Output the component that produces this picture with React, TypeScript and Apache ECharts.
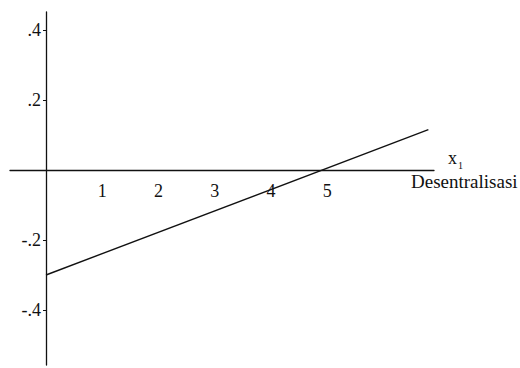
import React, { useEffect, useRef } from "react";
import * as echarts from "echarts";

const xTickValues = [1, 2, 3, 4, 5];
const yTickValues = [0.4, 0.2, -0.2, -0.4];
const lineX = [0, 6.8];
const lineY = [-0.3, 0.115];
const axisName = "Desentralisasi";
const varName = "x";
const varSub = "1";

const FONT = "'Liberation Serif', 'DejaVu Serif', serif";

export default function App() {
  const ref = useRef<HTMLDivElement>(null);
  useEffect(() => {
    if (!ref.current) return;
    const chart = echarts.init(ref.current, undefined, { renderer: "svg" });
    chart.setOption({
      animation: false,
      backgroundColor: "#ffffff",
      grid: {
        left: 10,
        top: 12,
        width: 424,
        height: 353,
        containLabel: false,
        outerBoundsMode: "none",
      },
      xAxis: {
        type: "value",
        min: -0.64,
        max: 6.9,
        position: "bottom",
        offset: -195,
        splitLine: { show: false },
        axisLine: { show: true, onZero: false, lineStyle: { color: "#111", width: 1.3 } },
        axisTick: { show: false },
        axisLabel: {
          customValues: xTickValues,
          color: "#111",
          fontFamily: FONT,
          fontSize: 18,
          margin: 12,
          formatter: (v: number) => String(v),
        },
      },
      yAxis: {
        type: "value",
        min: -0.557,
        max: 0.451,
        position: "left",
        offset: -36,
        splitLine: { show: false },
        axisLine: { show: true, onZero: false, lineStyle: { color: "#111", width: 1.3 } },
        axisTick: { show: true, customValues: yTickValues, length: 3, lineStyle: { color: "#111" } },
        axisLabel: {
          customValues: yTickValues,
          color: "#111",
          fontFamily: FONT,
          fontSize: 18,
          margin: 5,
          formatter: (v: number) => {
            const s = Math.abs(v).toFixed(1).replace(/^0/, "");
            return v < 0 ? "-" + s : s;
          },
        },
      },
      series: [
        {
          type: "line",
          data: lineX.map((x, i) => [x, lineY[i]]),
          showSymbol: false,
          lineStyle: { color: "#111", width: 1.4 },
          silent: true,
        },
      ],
      graphic: [
        {
          type: "text",
          left: 448,
          top: 149,
          style: { text: varName, font: "18px " + FONT, fill: "#111" },
        },
        {
          type: "text",
          left: 458,
          top: 160,
          style: { text: varSub, font: "10px " + FONT, fill: "#111" },
        },
        {
          type: "text",
          left: 411,
          top: 172,
          style: { text: axisName, font: "19px " + FONT, fill: "#111" },
        },
      ],
    });
    return () => chart.dispose();
  }, []);
  return (
    <div
      ref={ref}
      style={{ position: "fixed", left: 0, top: 0, width: 520, height: 368 }}
    />
  );
}
